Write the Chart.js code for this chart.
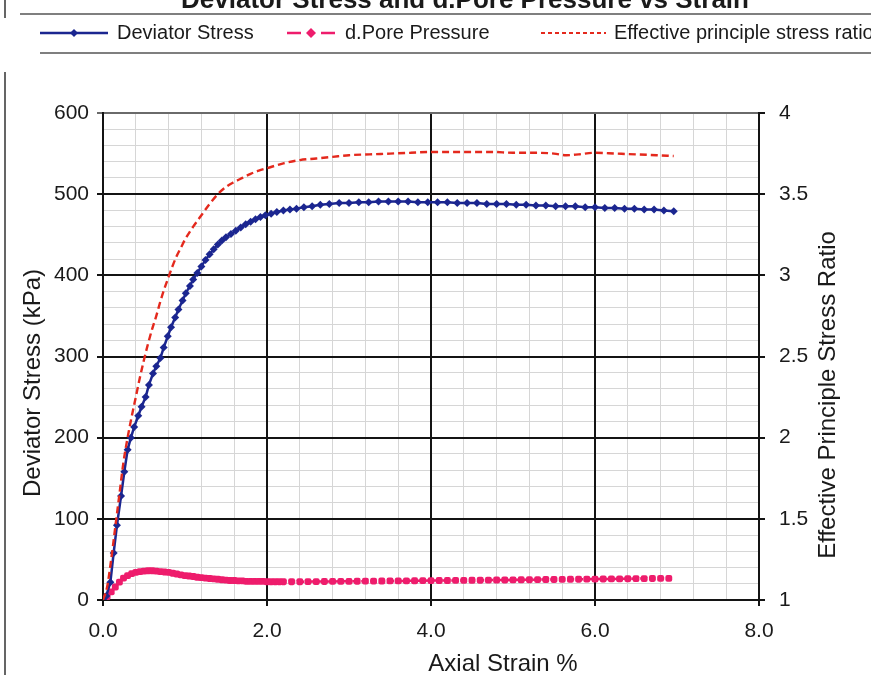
<!DOCTYPE html>
<html>
<head>
<meta charset="utf-8">
<script src="https://cdn.jsdelivr.net/npm/chart.js@4.4.1/dist/chart.umd.min.js"></script>
<style>
  html, body { margin: 0; padding: 0; background: #fff; overflow: hidden; }
  canvas { display: block; }
</style>
</head>
<body>
<canvas id="strainChart" width="871" height="675"></canvas>
<script>
// axis ticks
const strainTicks = [0, 2, 4, 6, 8];
const stressTicks = [0, 100, 200, 300, 400, 500, 600];
const ratioTicks = [1, 1.5, 2, 2.5, 3, 3.5, 4];

// deviator stress (kPa) against axial strain (%)
const devStrain = [0, 0.04, 0.09, 0.13, 0.17, 0.22, 0.26, 0.30, 0.34, 0.38, 0.43, 0.47, 0.52, 0.56, 0.61,
  0.65, 0.70, 0.74, 0.79, 0.83, 0.88, 0.92, 0.97, 1.01, 1.06, 1.10, 1.15, 1.20, 1.25, 1.30, 1.35, 1.40,
  1.45, 1.50, 1.56, 1.62, 1.68, 1.74, 1.80, 1.86, 1.92, 1.98, 2.05, 2.12, 2.20, 2.28, 2.36, 2.45, 2.55,
  2.65, 2.76, 2.88, 3.00, 3.12, 3.24, 3.36, 3.48, 3.60, 3.72, 3.84, 3.96, 4.08, 4.20, 4.32, 4.44, 4.56,
  4.68, 4.80, 4.92, 5.04, 5.16, 5.28, 5.40, 5.52, 5.64, 5.76, 5.88, 6.00, 6.12, 6.24, 6.36, 6.48, 6.60,
  6.72, 6.84, 6.96];
const devStress = [0, 5, 22, 58, 92, 128, 158, 185, 200, 213, 227, 238, 250, 265, 279,
  288, 298, 311, 325, 336, 348, 358, 369, 378, 387, 395, 403, 411, 419, 426, 432, 438,
  443, 447, 451, 455, 459, 463, 466, 469, 472, 474, 476, 478, 480, 481, 482, 484, 485,
  487, 488, 489, 489, 490, 490, 491, 491, 491, 491, 490, 490, 490, 490, 489, 489, 489,
  488, 488, 488, 487, 487, 486, 486, 485, 485, 485, 484, 484, 483, 483, 482, 482, 481,
  481, 480, 479];

// change in pore pressure (kPa)
const poreStrain = [0, 0.05, 0.10, 0.15, 0.20, 0.25, 0.30, 0.35, 0.40, 0.45, 0.50, 0.55, 0.60, 0.65, 0.70,
  0.75, 0.80, 0.85, 0.90, 0.95, 1.00, 1.05, 1.10, 1.15, 1.20, 1.25, 1.30, 1.35, 1.40, 1.45, 1.50,
  1.55, 1.60, 1.65, 1.70, 1.75, 1.80, 1.85, 1.90, 1.95, 2.00, 2.05, 2.10, 2.15, 2.20,
  2.3, 2.4, 2.5, 2.6, 2.7, 2.8, 2.9, 3.0, 3.1, 3.2, 3.3, 3.4, 3.5, 3.6, 3.7, 3.8, 3.9, 4.0,
  4.1, 4.2, 4.3, 4.4, 4.5, 4.6, 4.7, 4.8, 4.9, 5.0, 5.1, 5.2, 5.3, 5.4, 5.5, 5.6, 5.7, 5.8,
  5.9, 6.0, 6.1, 6.2, 6.3, 6.4, 6.5, 6.6, 6.7, 6.8, 6.9, 7.0];
const porePressure = [0, 4, 10, 16, 22, 27, 30, 32.5, 34, 35, 35.5, 36, 36, 35.5, 35,
  34.5, 34, 33, 32, 31, 30, 29.5, 29, 28, 27.5, 27, 26.5, 26, 25.5, 25, 24.5,
  24, 24, 23.5, 23.5, 23, 23, 23, 23, 23, 22.5, 22.5, 22.5, 22.5, 22.5,
  22.5, 22.5, 22.6, 22.7, 22.8, 22.9, 23, 23, 23.1, 23.2, 23.3, 23.4, 23.5, 23.5, 23.6, 23.7, 23.8,
  23.9, 24, 24, 24.1, 24.2, 24.3, 24.4, 24.5, 24.6, 24.7, 24.8, 24.9, 25, 25.1, 25.2, 25.3, 25.4,
  25.5, 25.6, 25.7, 25.8, 25.9, 26, 26.1, 26.2, 26.3, 26.4, 26.5, 26.6, 26.7];

// effective principal stress ratio
const ratioStrain = [0, 0.05, 0.10, 0.15, 0.20, 0.25, 0.30, 0.35, 0.40, 0.45, 0.50, 0.55, 0.60, 0.65,
  0.70, 0.75, 0.80, 0.85, 0.90, 0.95, 1.00, 1.10, 1.20, 1.30, 1.40, 1.50, 1.60, 1.70, 1.80, 1.90,
  2.00, 2.20, 2.40, 2.60, 2.80, 3.00, 3.25, 3.50, 3.75, 4.00, 4.25, 4.50, 4.75, 5.00, 5.25, 5.50,
  5.65, 5.80, 6.00, 6.25, 6.50, 6.75, 6.96];
const ratioValues = [1.0, 1.08, 1.25, 1.45, 1.65, 1.85, 2.00, 2.13, 2.25, 2.37, 2.48, 2.58, 2.67, 2.75,
  2.84, 2.92, 2.99, 3.06, 3.12, 3.17, 3.22, 3.30, 3.37, 3.44, 3.50, 3.545, 3.575, 3.60, 3.625, 3.645,
  3.66, 3.69, 3.71, 3.72, 3.73, 3.74, 3.745, 3.75, 3.755, 3.76, 3.76, 3.76, 3.76, 3.755, 3.755, 3.75,
  3.74, 3.745, 3.755, 3.75, 3.745, 3.74, 3.735];

const FONT = '"Liberation Sans", Arial, sans-serif';
const PLOT = { left: 103, top: 113, right: 759, bottom: 600 };
const W = 871, H = 675;

const BLUE = '#1b2690';
const PINK = '#ee1c6c';
const RED = '#e4291d';

const toPoints = (xs, ys) => xs.map((x, i) => ({ x, y: ys[i] }));

// heading, legend, axis titles and the outer frame
const decorations = {
  id: 'decorations',
  beforeDraw(chart) {
    const c = chart.ctx;
    c.save();
    c.fillStyle = '#fff';
    c.fillRect(0, 0, W, H);
    c.restore();
  },
  afterDraw(chart) {
    const c = chart.ctx;
    c.save();
    c.fillStyle = '#1a1a1a';

    c.font = 'bold 26px ' + FONT;
    c.textAlign = 'center';
    c.textBaseline = 'alphabetic';
    c.fillText('Deviator Stress and d.Pore Pressure vs Strain', 465, 8);

    // frame
    c.strokeStyle = '#333';
    c.lineWidth = 1.5;
    c.beginPath();
    c.moveTo(5, 0); c.lineTo(5, 18);
    c.moveTo(5, 72); c.lineTo(5, H);
    c.stroke();
    c.strokeStyle = '#555';
    c.beginPath();
    c.moveTo(20, 14); c.lineTo(W, 14);
    c.moveTo(40, 53); c.lineTo(W, 53);
    c.stroke();

    // legend samples
    const ly = 33;
    c.lineWidth = 2.5;
    c.strokeStyle = BLUE;
    c.beginPath(); c.moveTo(40, ly); c.lineTo(108, ly); c.stroke();
    c.fillStyle = BLUE;
    c.beginPath(); c.moveTo(74, ly - 4); c.lineTo(78, ly); c.lineTo(74, ly + 4); c.lineTo(70, ly); c.closePath(); c.fill();

    c.strokeStyle = PINK;
    c.beginPath(); c.moveTo(287, ly); c.lineTo(301, ly); c.moveTo(321, ly); c.lineTo(335, ly); c.stroke();
    c.fillStyle = PINK;
    c.beginPath(); c.moveTo(311, ly - 5); c.lineTo(316, ly); c.lineTo(311, ly + 5); c.lineTo(306, ly); c.closePath(); c.fill();

    c.lineWidth = 2;
    c.strokeStyle = RED;
    c.setLineDash([4, 3]);
    c.beginPath(); c.moveTo(541, ly); c.lineTo(606, ly); c.stroke();
    c.setLineDash([]);

    c.fillStyle = '#1a1a1a';
    c.font = '20px ' + FONT;
    c.textAlign = 'left';
    c.textBaseline = 'middle';
    c.fillText('Deviator Stress', 117, ly);
    c.fillText('d.Pore Pressure', 345, ly);
    c.fillText('Effective principle stress ratio', 614, ly);

    // axis titles
    c.font = '24px ' + FONT;
    c.textAlign = 'center';
    c.fillText('Axial Strain %', 503, 664);
    c.save();
    c.translate(33, 383);
    c.rotate(-Math.PI / 2);
    c.fillText('Deviator Stress (kPa)', 0, 0);
    c.restore();
    c.save();
    c.translate(828, 395);
    c.rotate(-Math.PI / 2);
    c.fillText('Effective Principle Stress Ratio', 0, 0);
    c.restore();

    c.restore();
  }
};

const tickFont = { family: FONT, size: 21 };

new Chart(document.getElementById('strainChart'), {
  type: 'scatter',
  data: {
    datasets: [
      {
        label: 'Deviator Stress',
        data: toPoints(devStrain, devStress),
        yAxisID: 'y',
        showLine: true,
        borderColor: BLUE,
        backgroundColor: BLUE,
        borderWidth: 2.5,
        pointStyle: 'rectRot',
        pointRadius: 4,
        pointBorderWidth: 0,
        order: 1
      },
      {
        label: 'd.Pore Pressure',
        data: toPoints(poreStrain, porePressure),
        yAxisID: 'y',
        showLine: true,
        borderColor: PINK,
        backgroundColor: PINK,
        borderWidth: 2.5,
        borderDash: [6, 3],
        pointStyle: 'rectRounded',
        pointRadius: 4,
        pointBorderWidth: 0,
        order: 2
      },
      {
        label: 'Effective principle stress ratio',
        data: toPoints(ratioStrain, ratioValues),
        yAxisID: 'y2',
        showLine: true,
        borderColor: RED,
        borderWidth: 2.4,
        borderDash: [7, 4],
        pointRadius: 0,
        cubicInterpolationMode: 'monotone',
        order: 0
      }
    ]
  },
  options: {
    responsive: false,
    animation: false,
    layout: { padding: { top: PLOT.top, left: 0, right: 0, bottom: 0 } },
    plugins: {
      legend: { display: false },
      tooltip: { enabled: false }
    },
    scales: {
      xMinor: {
        type: 'linear', position: 'bottom', min: 0, max: 8, z: -1,
        ticks: { display: false, stepSize: 0.4 },
        grid: { color: '#d6d6d6', lineWidth: 1, drawTicks: false },
        border: { display: false },
        afterFit: s => { s.height = 0; }
      },
      yMinor: {
        type: 'linear', position: 'left', min: 0, max: 600, z: -1,
        ticks: { display: false, stepSize: 20 },
        grid: { color: '#d6d6d6', lineWidth: 1, drawTicks: false },
        border: { display: false },
        afterFit: s => { s.width = 0; }
      },
      x: {
        type: 'linear', position: 'bottom', min: 0, max: 8,
        afterBuildTicks: s => { s.ticks = strainTicks.map(v => ({ value: v })); },
        ticks: { font: tickFont, color: '#1a1a1a', padding: 13, maxRotation: 0, callback: v => Number(v).toFixed(1) },
        grid: { color: '#141414', lineWidth: 2, tickLength: 6 },
        border: { color: '#141414', width: 2 },
        afterFit: s => { s.height = H - PLOT.bottom; }
      },
      y: {
        type: 'linear', position: 'left', min: 0, max: 600,
        afterBuildTicks: s => { s.ticks = stressTicks.map(v => ({ value: v })); },
        ticks: { font: tickFont, color: '#1a1a1a', padding: 8, callback: v => String(v) },
        grid: { color: c => (c.tick && c.tick.value === 600 ? '#6a6a6a' : '#141414'), lineWidth: 2, tickLength: 6 },
        border: { color: '#141414', width: 2 },
        afterFit: s => { s.width = PLOT.left; }
      },
      y2: {
        type: 'linear', position: 'right', min: 1, max: 4,
        afterBuildTicks: s => { s.ticks = ratioTicks.map(v => ({ value: v })); },
        ticks: { font: tickFont, color: '#1a1a1a', padding: 14, callback: v => String(v) },
        grid: { drawOnChartArea: false, color: '#141414', lineWidth: 2, tickLength: 6 },
        border: { color: '#141414', width: 2 },
        afterFit: s => { s.width = W - PLOT.right; }
      }
    }
  },
  plugins: [decorations]
});
</script>
</body>
</html>
